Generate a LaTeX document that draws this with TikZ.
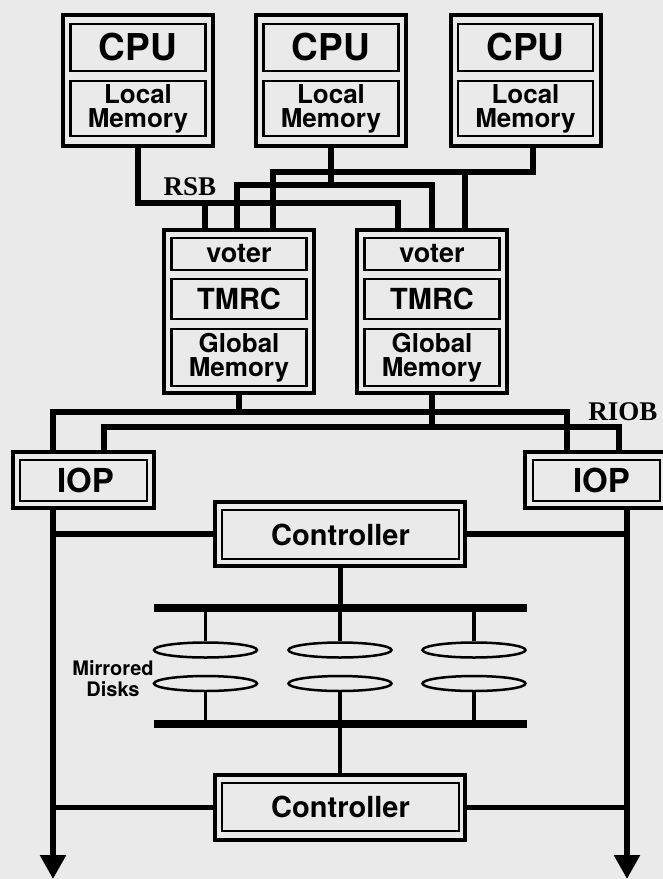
\documentclass[tikz,border=0pt]{standalone}
\usepackage{fontspec}
\setmainfont{TeX Gyre Heros}
\newfontfamily\serlabel{Liberation Serif}
\usetikzlibrary{shapes.geometric,arrows.meta}
\definecolor{paper}{RGB}{234,234,234}
\begin{document}
\begin{tikzpicture}[x=1pt,y=-1pt,
  line join=miter,
  outerbox/.style={draw,rectangle,line width=4pt,inner sep=0pt},
  innerbox/.style={draw,rectangle,line width=2.3pt,inner sep=0pt,align=center,minimum width=135pt},
  cpufont/.style={font=\bfseries\fontsize{37}{37}\selectfont},
  memfont/.style={font=\bfseries\fontsize{26}{24}\selectfont},
  votefont/.style={font=\bfseries\fontsize{27}{27}\selectfont},
  tmrfont/.style={font=\bfseries\fontsize{29}{29}\selectfont},
  iopfont/.style={font=\bfseries\fontsize{33}{33}\selectfont},
  ctlfont/.style={font=\bfseries\fontsize{29}{29}\selectfont},
  buslabel/.style={font=\serlabel\bfseries\fontsize{27}{27}\selectfont},
  conn/.style={line width=5.5pt},
  busline/.style={line width=7.5pt},
  diskline/.style={line width=3.2pt},
  disk/.style={draw,ellipse,line width=2.5pt,minimum width=103pt,minimum height=15pt,inner sep=0pt},
  tip/.style={-{Triangle[length=24pt,width=25pt]}}
]
\useasboundingbox (0,0) rectangle (663,879);
\fill[paper] (0,0) rectangle (663,879);

% CPUs
\node[outerbox,minimum width=150pt,minimum height=131pt] (c1) at (138,80) {};
\node[innerbox,cpufont,minimum height=47pt] (c1cpu) at (138,47.5) {CPU};
\node[innerbox,memfont,minimum height=55pt] (c1mem) at (138,108.5) {Local\\Memory};
\node[outerbox,minimum width=150pt,minimum height=131pt] (c2) at (331,80) {};
\node[innerbox,cpufont,minimum height=47pt] (c2cpu) at (331,47.5) {CPU};
\node[innerbox,memfont,minimum height=55pt] (c2mem) at (331,108.5) {Local\\Memory};
\node[outerbox,minimum width=150pt,minimum height=131pt] (c3) at (525.5,80) {};
\node[innerbox,cpufont,minimum height=47pt] (c3cpu) at (525.5,47.5) {CPU};
\node[innerbox,memfont,minimum height=55pt] (c3mem) at (525.5,108.5) {Local\\Memory};

% Voter / TMRC / Global memory
\node[outerbox,minimum width=150pt,minimum height=163pt] (v1) at (239,311.5) {};
\node[innerbox,votefont,minimum height=32pt] (v1vot) at (239,254) {voter};
\node[innerbox,tmrfont,minimum height=40pt] (v1tm) at (239,299) {TMRC};
\node[innerbox,memfont,minimum height=57pt] (v1gm) at (239,357.5) {Global\\Memory};
\node[outerbox,minimum width=150pt,minimum height=163pt] (v2) at (432,311.5) {};
\node[innerbox,votefont,minimum height=32pt] (v2vot) at (432,254) {voter};
\node[innerbox,tmrfont,minimum height=40pt] (v2tm) at (432,299) {TMRC};
\node[innerbox,memfont,minimum height=57pt] (v2gm) at (432,357.5) {Global\\Memory};

% IOPs
\node[outerbox,minimum width=141pt,minimum height=56pt] (iopL) at (83.5,480) {};
\node[innerbox,iopfont,minimum width=127pt,minimum height=41pt,text depth=0pt] (iopLi) at (83.5,480.5) {\hspace*{4pt}IOP};
\node[outerbox,minimum width=150pt,minimum height=56pt] (iopR) at (600,480) {};
\node[innerbox,iopfont,minimum width=127pt,minimum height=41pt,text depth=0pt] (iopRi) at (596.5,480.5) {\hspace*{10pt}IOP};

% Controllers
\node[outerbox,minimum width=250pt,minimum height=64pt] (ctop) at (340,534) {};
\node[innerbox,ctlfont,minimum width=237pt,minimum height=49pt] (ctopi) at (340.5,534.5) {Controller};
\node[outerbox,minimum width=250pt,minimum height=65pt] (cbot) at (340,807.5) {};
\node[innerbox,ctlfont,minimum width=237pt,minimum height=48pt] (cboti) at (340.5,807) {Controller};

% Labels
\node[buslabel] (rsb) at (190,187) {RSB};
\node[buslabel] (riob) at (623,412) {RIOB};

% RSB connections
\coordinate (yA) at (0,203);
\coordinate (yB) at (0,185);
\coordinate (yC) at (0,172);
\coordinate (v1a) at ([xshift=-34pt]v1.north);
\coordinate (v1b) at ([xshift=-2pt]v1.north);
\coordinate (v1c) at ([xshift=34pt]v1.north);
\coordinate (v2a) at ([xshift=-34pt]v2.north);
\coordinate (v2b) at (v2.north);
\coordinate (v2c) at ([xshift=33pt]v2.north);
\coordinate (c3d) at ([xshift=7.5pt]c3.south);
\draw[conn] (c1.south) -- (c1.south |- yA) -- (v2a |- yA) -- (v2a);
\draw[conn] (v1a |- yA) -- (v1a);
\draw[conn] (c2.south) -- (c2.south |- yB);
\draw[conn] (v1b) -- (v1b |- yB) -- (v2b |- yB) -- (v2b);
\draw[conn] (c3d) -- (c3d |- yC) -- (v1c |- yC) -- (v1c);
\draw[conn] (v2c |- yC) -- (v2c);

% RIOB connections
\coordinate (yD) at (0,412);
\coordinate (yE) at (0,427);
\coordinate (pL1) at ([xshift=-30.5pt]iopL.north);
\coordinate (pL2) at ([xshift=20.5pt]iopL.north);
\coordinate (pR1) at ([xshift=-33pt]iopR.north);
\coordinate (pR2) at ([xshift=19pt]iopR.north);
\draw[conn] (pL1) -- (pL1 |- yD) -- (pR1 |- yD) -- (pR1);
\draw[conn] (v1.south) -- (v1.south |- yD);
\draw[conn] (pL2) -- (pL2 |- yE) -- (pR2 |- yE) -- (pR2);
\draw[conn] (v2.south) -- (v2.south |- yE);

% Output lines with arrows
\coordinate (aL) at (53,879);
\coordinate (aR) at (627,879);
\draw[conn,tip] ([xshift=-30.5pt]iopL.south) -- (aL);
\draw[conn,tip] ([xshift=27pt]iopR.south) -- (aR);
\draw[conn] (ctop.west) -- (ctop.west -| aL);
\draw[conn] (ctop.east) -- (ctop.east -| aR);
\draw[conn] (cbot.west) -- (cbot.west -| aL);
\draw[conn] (cbot.east) -- (cbot.east -| aR);

% Disk buses
\coordinate (bTL) at (154,608);
\coordinate (bTR) at (527,608);
\coordinate (bBL) at (154,724);
\coordinate (bBR) at (527,724);
\draw[busline] (bTL) -- (bTR);
\draw[busline] (bBL) -- (bBR);
\draw[line width=5pt] (ctop.south) -- (ctop.south |- bTL);
\draw[line width=4.5pt] (cbot.north) -- (cbot.north |- bBL);

% Disks
\node[disk] (d11) at (205.5,650) {};
\node[disk] (d12) at (340,650) {};
\node[disk] (d13) at (474,650) {};
\node[disk] (d21) at (205.5,683.5) {};
\node[disk] (d22) at (340,683.5) {};
\node[disk] (d23) at (474,683.5) {};
\draw[diskline] (d11.north |- bTL) -- (d11.north);
\draw[diskline] (d12.north |- bTL) -- (d12.north);
\draw[diskline] (d13.north |- bTL) -- (d13.north);
\draw[diskline] (d21.south) -- (d21.south |- bBL);
\draw[diskline] (d22.south) -- (d22.south |- bBL);
\draw[diskline] (d23.south) -- (d23.south |- bBL);
\node[font=\bfseries\fontsize{20}{21}\selectfont,align=center,inner sep=0pt] (mirr) at (113,679) {Mirrored\\Disks};
\end{tikzpicture}
\end{document}
